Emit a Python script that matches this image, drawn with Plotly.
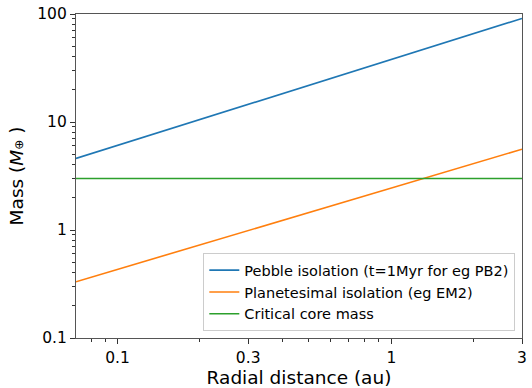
import plotly.graph_objects as go
import numpy as np

x_au = [0.0705, 3.0]
pebble = [4.6, 91.0]
planetesimal = [0.332, 5.6]
critical = [3.0, 3.0]

names = ["Pebble isolation (t=1Myr for eg PB2)",
         "Planetesimal isolation (eg EM2)",
         "Critical core mass"]
colors = ["#1f77b4", "#ff7f0e", "#2ca02c"]

x_ticks = [0.1, 0.3, 1, 3]
x_ticktext = ["0.1", "0.3", "1", "3"]
y_ticks = [0.1, 1, 10, 100]
y_ticktext = ["0.1", "1", "10", "100"]

x_minor = [0.08, 0.09, 0.2, 0.4, 0.5, 0.6, 0.7, 0.8, 0.9, 2]
y_minor = [m * d for d in [0.1, 1, 10] for m in range(2, 10)]

fig = go.Figure()
for ys, n, c in zip([pebble, planetesimal, critical], names, colors):
    fig.add_trace(go.Scatter(x=x_au, y=ys, mode="lines", name=n,
                             line=dict(color=c, width=1.6)))

font = "DejaVu Sans"
fig.update_layout(
    width=532, height=388,
    margin=dict(l=76, r=5, t=13, b=47),
    paper_bgcolor="white", plot_bgcolor="white",
    font=dict(family=font, color="black", size=15.5),
    showlegend=True,
    legend=dict(x=0.985, y=0.021, xanchor="right", yanchor="bottom",
                bordercolor="#cccccc", borderwidth=1, bgcolor="white",
                font=dict(size=14.5, family=font), tracegroupgap=0,
                itemwidth=30),
)
fig.update_xaxes(
    type="log", range=[np.log10(x_au[0]), np.log10(x_au[1])],
    tickvals=x_ticks, ticktext=x_ticktext,
    ticks="outside", ticklen=5, tickwidth=1, tickcolor="#333",
    showline=True, linecolor="#555", linewidth=1.2, mirror=True,
    showgrid=False, zeroline=False,
    minor=dict(tickvals=x_minor, ticks="outside", ticklen=3, tickcolor="#333", showgrid=False),
    title=dict(text="Radial distance (au)", font=dict(size=18.5, family=font), standoff=3),
    tickfont=dict(size=15.5),
)
fig.update_yaxes(
    type="log", range=[-1, 2],
    tickvals=y_ticks, ticktext=y_ticktext,
    ticks="outside", ticklen=5, tickwidth=1, tickcolor="#333",
    showline=True, linecolor="#555", linewidth=1.2, mirror=True,
    showgrid=False, zeroline=False,
    minor=dict(tickvals=y_minor, ticks="outside", ticklen=3, tickcolor="#333", showgrid=False),
    title=dict(text="Mass (<i>M</i><span style=\"font-size:12px\">⊕</span> )",
               font=dict(size=18.5, family=font), standoff=8),
    tickfont=dict(size=15.5),
)
fig.write_html("out.html")
